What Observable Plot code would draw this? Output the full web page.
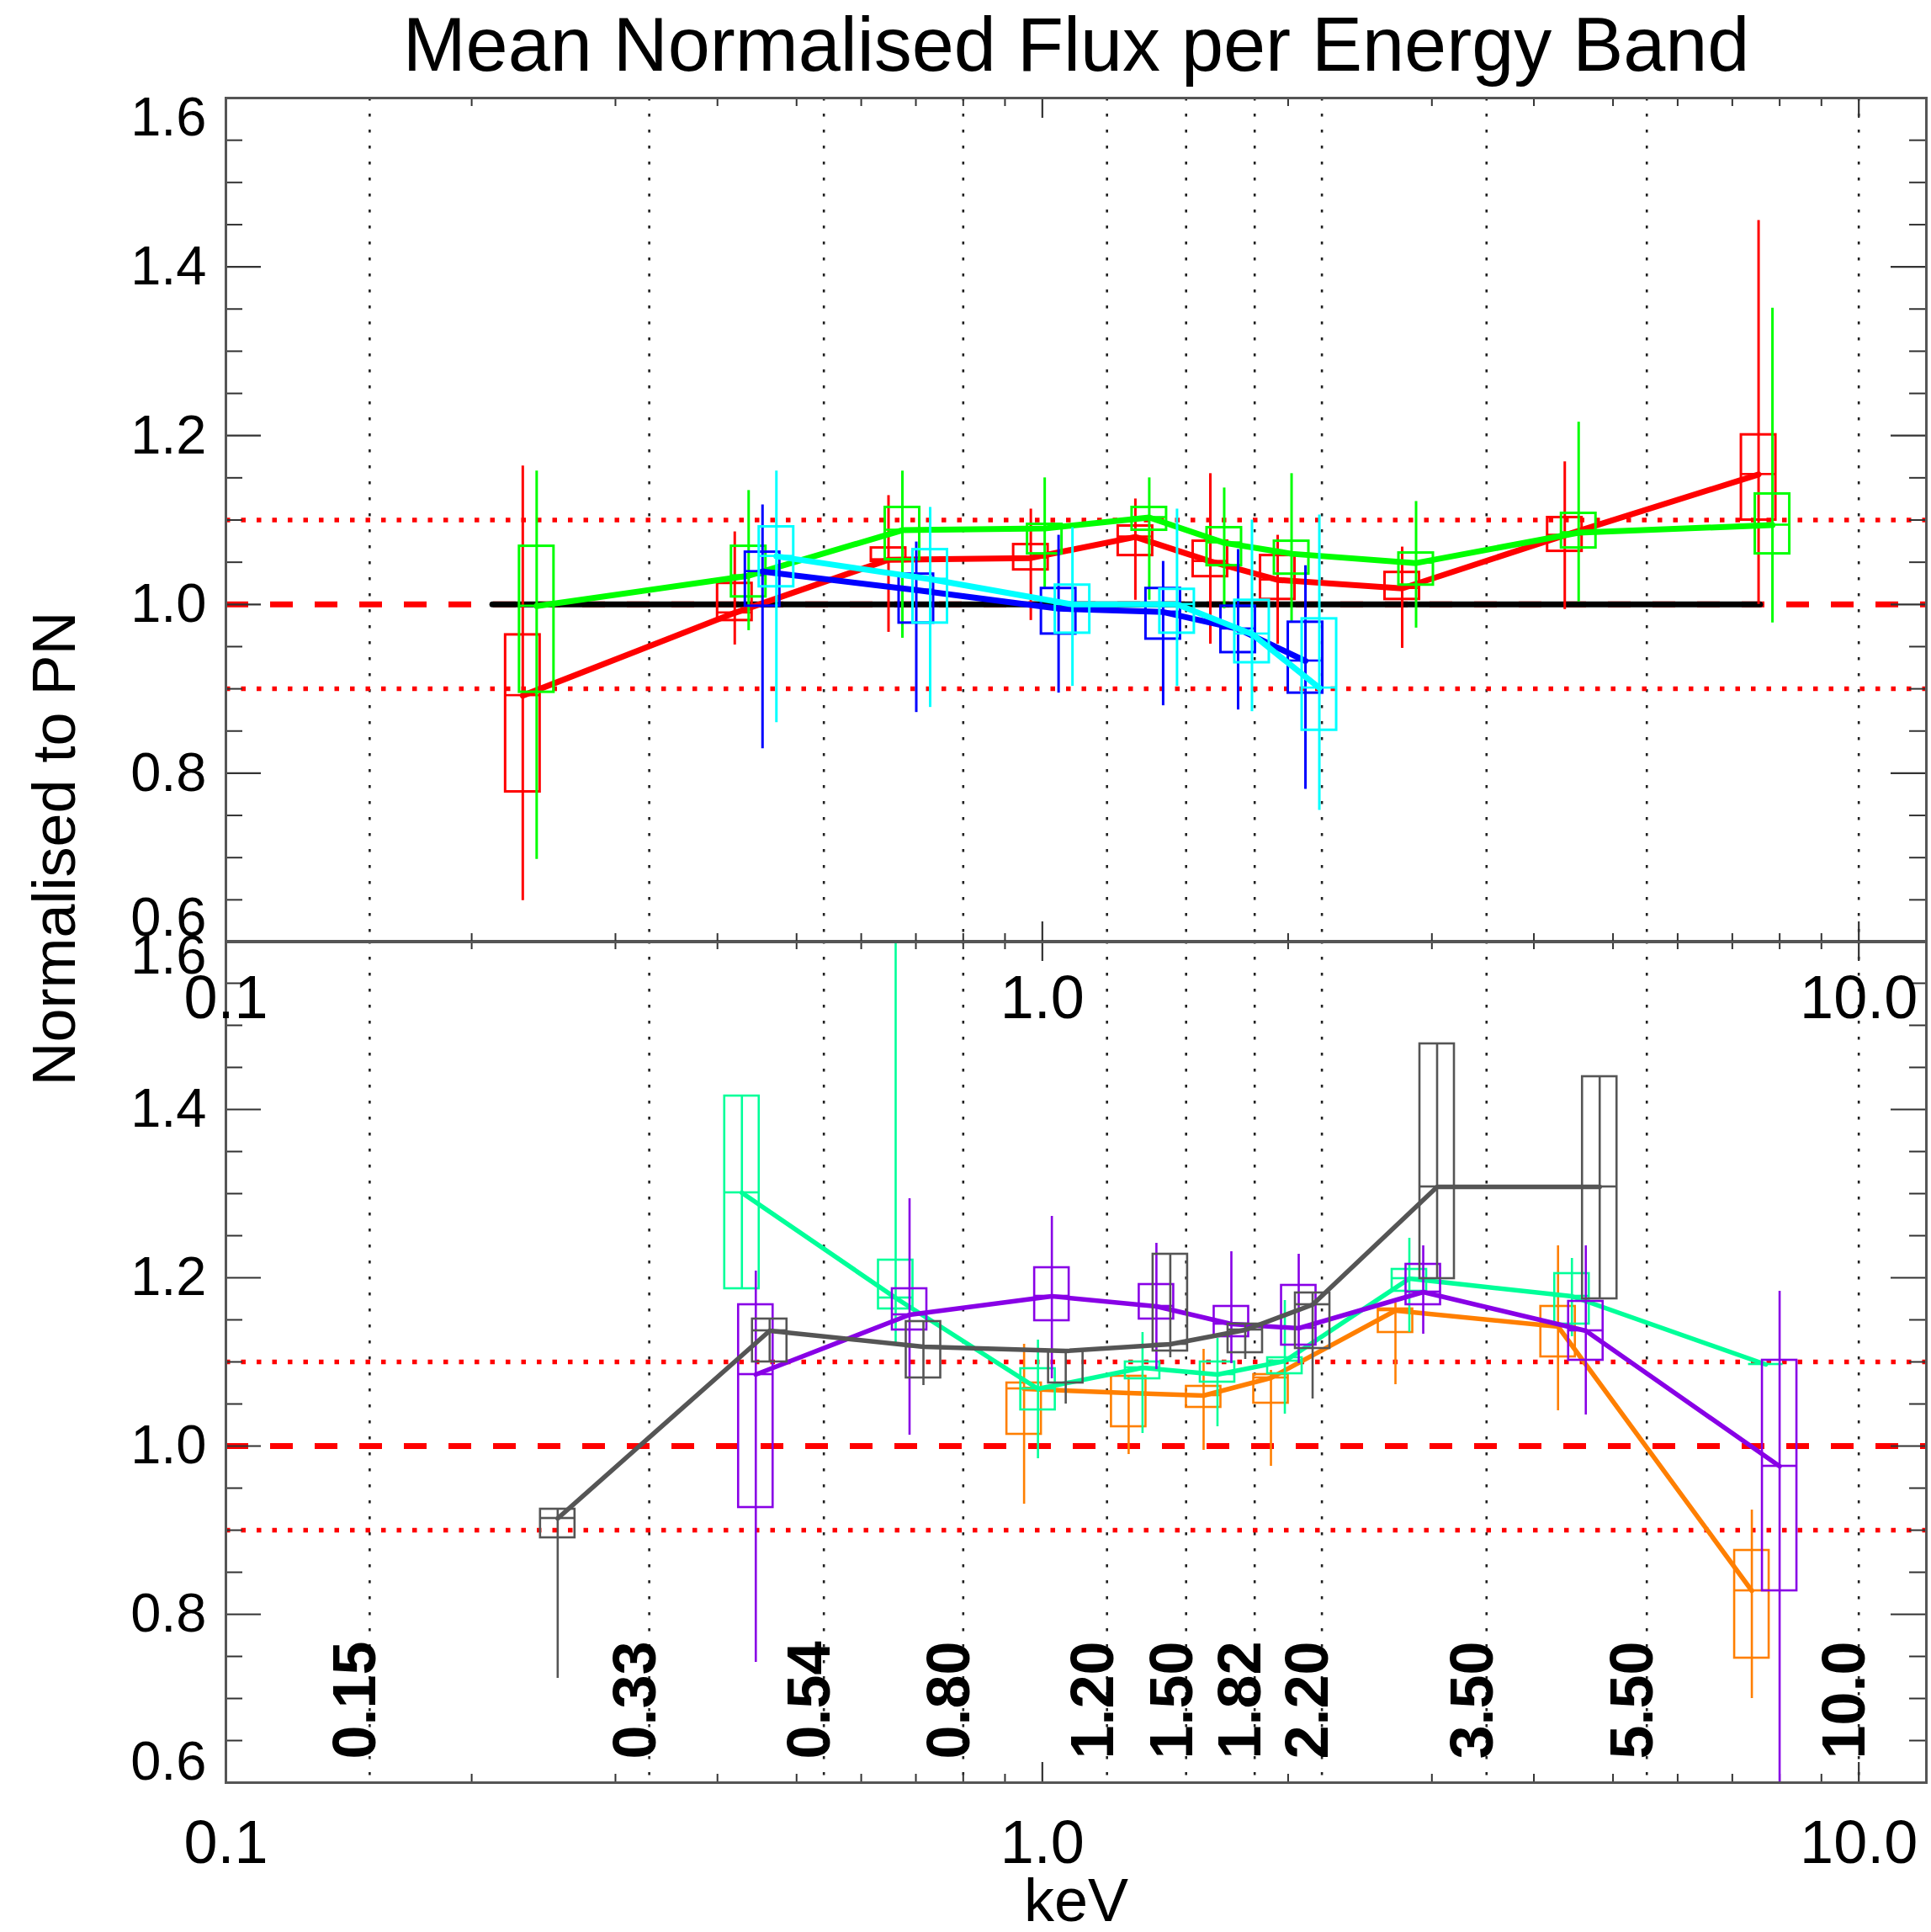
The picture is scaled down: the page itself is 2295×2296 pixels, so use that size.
<!DOCTYPE html>
<html><head><meta charset="utf-8">
<script src="https://cdn.jsdelivr.net/npm/d3@7"></script>
<script src="https://cdn.jsdelivr.net/npm/@observablehq/plot@0.6"></script>
<style>
html,body{margin:0;padding:0;background:#fff;}
#chart{position:relative;width:2295px;height:2296px;background:#fff;}
#chart svg{position:absolute;left:0;top:0;overflow:visible;}
</style></head><body><div id="chart"></div>
<script>
// ---------- data ----------
const chartTitle = "Mean Normalised Flux per Energy Band";
const xAxisLabel = "keV";
const yAxisLabel = "Normalised to PN";
const bandEdges = [0.15, 0.33, 0.54, 0.80, 1.20, 1.50, 1.82, 2.20, 3.50, 5.50, 10.0];
const bandEdgeLabels = ["0.15","0.33","0.54","0.80","1.20","1.50","1.82","2.20","3.50","5.50","10.0"];
const bandEnergy = [0.231, 0.420, 0.648, 0.968, 1.300, 1.606, 1.942, 2.759, 4.364, 7.538];
const xTickValues = [0.1, 1, 10];
const xTickLabels = ["0.1", "1.0", "10.0"];
const xMinorTicks = [0.2,0.3,0.4,0.5,0.6,0.7,0.8,0.9,2,3,4,5,6,7,8,9];
const yTickValues = [0.6, 0.8, 1.0, 1.2, 1.4, 1.6];
const yMinorTicks = [0.65,0.7,0.75,0.85,0.9,0.95,1.05,1.1,1.15,1.25,1.3,1.35,1.45,1.5,1.55];
const pnEnergy = [0.212, 7.57];
const pnValue = [1.0, 1.0];

// top panel
const redMed = [0.892, 0.990, 1.053, 1.055, 1.080, 1.051, 1.029, 1.019, 1.082, 1.154];
const redQ1  = [0.778, 0.981, 1.051, 1.041, 1.058, 1.033, 1.006, 1.006, 1.063, 1.100];
const redQ3  = [0.964, 1.025, 1.067, 1.071, 1.093, 1.075, 1.058, 1.038, 1.103, 1.201];
const redLo  = [0.649, 0.952, 0.967, 0.981, 1.005, 0.953, 0.953, 0.948, 0.994, 1.000];
const redHi  = [1.164, 1.086, 1.129, 1.113, 1.125, 1.155, 1.082, 1.068, 1.169, 1.455];

const greenMed = [0.998, 1.034, 1.088, 1.090, 1.103, 1.073, 1.060, 1.049, 1.085, 1.094];
const greenQ1  = [0.896, 1.009, 1.053, 1.060, 1.088, 1.046, 1.036, 1.023, 1.067, 1.060];
const greenQ3  = [1.069, 1.069, 1.115, 1.095, 1.115, 1.091, 1.075, 1.061, 1.108, 1.131];
const greenLo  = [0.698, 0.969, 0.960, 1.020, 1.005, 0.995, 0.980, 0.972, 1.003, 0.978];
const greenHi  = [1.158, 1.135, 1.158, 1.150, 1.150, 1.138, 1.155, 1.122, 1.216, 1.351];

const blueMed = [null, 1.039, 1.017, 0.995, 0.991, 0.971, 0.933, null, null, null];
const blueQ1  = [null, 0.998, 0.978, 0.965, 0.959, 0.943, 0.895, null, null, null];
const blueQ3  = [null, 1.062, 1.036, 1.019, 1.019, 0.998, 0.979, null, null, null];
const blueLo  = [null, 0.829, 0.872, 0.895, 0.880, 0.875, 0.781, null, null, null];
const blueHi  = [null, 1.118, 1.074, 1.082, 1.051, 1.065, 1.046, null, null, null];

const cyanMed = [null, 1.057, 1.030, 1.000, 1.000, 0.965, 0.901, null, null, null];
const cyanQ1  = [null, 1.021, 0.978, 0.966, 0.966, 0.931, 0.851, null, null, null];
const cyanQ3  = [null, 1.092, 1.065, 1.023, 1.018, 1.005, 0.983, null, null, null];
const cyanLo  = [null, 0.860, 0.878, 0.903, 0.903, 0.873, 0.756, null, null, null];
const cyanHi  = [null, 1.158, 1.115, 1.091, 1.113, 1.100, 1.106, null, null, null];

// bottom panel
const orangeMed = [null, null, null, 1.068, 1.063, 1.060, 1.081, 1.161, 1.142, 0.828];
const orangeQ1  = [null, null, null, 1.014, 1.023, 1.046, 1.051, 1.135, 1.106, 0.748];
const orangeQ3  = [null, null, null, 1.075, 1.083, 1.071, 1.085, 1.163, 1.166, 0.876];
const orangeLo  = [null, null, null, 0.931, 0.990, 0.995, 0.976, 1.073, 1.042, 0.700];
const orangeHi  = [null, null, null, 1.121, 1.083, 1.115, 1.090, 1.170, 1.238, 0.924];

const springMed = [null, 1.301, 1.176, 1.068, 1.093, 1.085, 1.101, 1.199, 1.178, 1.097];
const springQ1  = [null, 1.187, 1.163, 1.043, 1.080, 1.076, 1.086, 1.184, 1.145, 1.097];
const springQ3  = [null, 1.416, 1.221, 1.092, 1.100, 1.100, 1.105, 1.210, 1.205, 1.097];
const springLo  = [null, 1.187, 1.120, 0.985, 1.015, 1.023, 1.038, 1.135, 1.130, 1.097];
const springHi  = [null, 1.416, 1.650, 1.126, 1.135, 1.128, 1.173, 1.247, 1.223, 1.097];

const purpleMed = [null, 1.085, 1.156, 1.178, 1.166, 1.145, 1.140, 1.183, 1.137, 0.976];
const purpleQ1  = [null, 0.927, 1.138, 1.149, 1.151, 1.130, 1.120, 1.168, 1.102, 0.828];
const purpleQ3  = [null, 1.168, 1.187, 1.212, 1.192, 1.166, 1.191, 1.216, 1.172, 1.102];
const purpleLo  = [null, 0.743, 1.013, 1.080, 1.091, 1.098, 1.098, 1.133, 1.037, 0.550];
const purpleHi  = [null, 1.208, 1.294, 1.273, 1.241, 1.231, 1.228, 1.238, 1.238, 1.184];

const grayMed = [0.914, 1.137, 1.118, 1.113, 1.121, 1.138, 1.168, 1.308, 1.308, null];
const grayQ1  = [0.891, 1.100, 1.081, 1.075, 1.113, 1.111, 1.116, 1.199, 1.175, null];
const grayQ3  = [0.925, 1.151, 1.148, 1.113, 1.228, 1.145, 1.182, 1.478, 1.439, null];
const grayLo  = [0.724, 1.100, 1.072, 1.050, 1.105, 1.103, 1.056, 1.199, 1.175, null];
const grayHi  = [0.925, 1.151, 1.148, 1.113, 1.228, 1.145, 1.182, 1.478, 1.439, null];

// ---------- layout / style ----------
const W = 2295, H = 2296;
const mLeft = 268, mRight = 6;
const topFrame = [116, 1119];
const botFrame = [1118, 2118];
const font = "'Liberation Sans', Arial, Helvetica, sans-serif";
const boxHalf = 20.5;

function rowsOf(med, q1, q3, lo, hi) {
  return bandEnergy.map((e, i) => ({energy: e, med: med[i], q1: q1[i], q3: q3[i], lo: lo[i], hi: hi[i]}))
    .filter(d => d.med != null);
}

function seriesMarks(rows, color, dx, lineW, thinW) {
  return [
    Plot.ruleX(rows, {x: "energy", y1: "lo", y2: "hi", stroke: color, strokeWidth: thinW, dx, clip: true}),
    Plot.rect(rows, {x1: "energy", x2: "energy", y1: "q1", y2: "q3", insetLeft: -boxHalf, insetRight: -boxHalf,
      fill: "none", stroke: color, strokeWidth: thinW, dx, clip: true}),
    Plot.rect(rows, {x1: "energy", x2: "energy", y1: "med", y2: "med", insetLeft: -boxHalf, insetRight: -boxHalf,
      insetTop: -1.3, insetBottom: -1.3, fill: color, dx}),
    Plot.line(rows, {x: "energy", y: "med", stroke: color, strokeWidth: lineW, dx, strokeLinejoin: "round"})
  ];
}

function frameMarks(fh, fw, opts) {
  const tc = "#333";
  return [
    Plot.ruleX(bandEdges, {x: d => d, stroke: "#222", strokeWidth: 2.6, strokeDasharray: "3.5,15.5"}),
    Plot.ruleY([0.9, 1.1], {y: d => d, stroke: "#ff0000", strokeWidth: 5.5, strokeDasharray: "5.5,13"}),
    Plot.ruleY([1.0], {y: d => d, stroke: "#ff0000", strokeWidth: 7, strokeDasharray: "27,26"}),
    Plot.tickX(xMinorTicks, {x: d => d, insetTop: fh - 10, stroke: tc, strokeWidth: 2}),
    Plot.tickX(xMinorTicks, {x: d => d, insetBottom: fh - 10, stroke: tc, strokeWidth: 2}),
    Plot.tickX(xTickValues, {x: d => d, insetTop: fh - 24, stroke: tc, strokeWidth: 2.2}),
    Plot.tickX(xTickValues, {x: d => d, insetBottom: fh - 24, stroke: tc, strokeWidth: 2.2}),
    Plot.tickY(yMinorTicks, {y: d => d, insetRight: fw - 20, stroke: tc, strokeWidth: 2}),
    Plot.tickY(yMinorTicks, {y: d => d, insetLeft: fw - 20, stroke: tc, strokeWidth: 2}),
    Plot.tickY(yTickValues, {y: d => d, insetRight: fw - 42, stroke: tc, strokeWidth: 2.2}),
    Plot.tickY(yTickValues, {y: d => d, insetLeft: fw - 42, stroke: tc, strokeWidth: 2.2}),
    // y labels
    Plot.text(yTickValues.filter(v => v > 0.61 && v < 1.59), {y: d => d, text: d => d.toFixed(1), frameAnchor: "left",
      textAnchor: "end", dx: -23, fontSize: 65}),
    Plot.text([yTickValues[yTickValues.length - 1]], {y: d => d, text: d => d.toFixed(1), frameAnchor: "left",
      textAnchor: "end", dx: -23, dy: opts.topShift, fontSize: 65}),
    Plot.text([yTickValues[0]], {y: d => d, text: d => d.toFixed(1), frameAnchor: "left",
      textAnchor: "end", dx: -23, dy: opts.botShift, fontSize: 65}),
    // x labels
    Plot.text(xTickValues, {x: d => d, text: (d, i) => xTickLabels[i], frameAnchor: "bottom", lineAnchor: "top",
      dy: opts.xLabelDy, fontSize: 72})
  ];
}

function makePlot(frame, marks) {
  return Plot.plot({
    width: W, height: H,
    marginLeft: mLeft, marginRight: mRight,
    marginTop: frame[0], marginBottom: H - frame[1],
    style: {fontFamily: font, background: "transparent", overflow: "visible", color: "black"},
    x: {type: "log", domain: [0.1, 12.1], axis: null},
    y: {domain: [0.6, 1.6], axis: null},
    marks
  });
}

const fw = W - mLeft - mRight;
const fhTop = topFrame[1] - topFrame[0];
const fhBot = botFrame[1] - botFrame[0];

const topPlot = makePlot(topFrame, [
  ...frameMarks(fhTop, fw, {topShift: 24, botShift: -28, xLabelDy: 39}),
  Plot.line(pnEnergy.map((e, i) => ({energy: e, v: pnValue[i]})), {x: "energy", y: "v", stroke: "black", strokeWidth: 7}),
  ...seriesMarks(rowsOf(redMed, redQ1, redQ3, redLo, redHi), "#ff0000", 0, 7, 3),
  ...seriesMarks(rowsOf(greenMed, greenQ1, greenQ3, greenLo, greenHi), "#00ff00", 16.5, 7, 3),
  ...seriesMarks(rowsOf(blueMed, blueQ1, blueQ3, blueLo, blueHi), "#0000ff", 33, 7, 3),
  ...seriesMarks(rowsOf(cyanMed, cyanQ1, cyanQ3, cyanLo, cyanHi), "#00ffff", 49.5, 7, 3),
  Plot.frame({stroke: "#555", strokeWidth: 3}),
  Plot.text([chartTitle], {text: d => d, frameAnchor: "top", lineAnchor: "bottom", dy: -33, fontSize: 90})
]);

const botPlot = makePlot(botFrame, [
  ...frameMarks(fhBot, fw, {topShift: 18, botShift: -24, xLabelDy: 44}),
  Plot.text(bandEdges, {x: d => d, text: (d, i) => bandEdgeLabels[i], frameAnchor: "bottom", rotate: -90,
    textAnchor: "start", lineAnchor: "bottom", dx: 7, dy: -28, fontSize: 72, fontWeight: "bold"}),
  ...seriesMarks(rowsOf(orangeMed, orangeQ1, orangeQ3, orangeLo, orangeHi), "#ff7f00", -8, 5.5, 2.6),
  ...seriesMarks(rowsOf(springMed, springQ1, springQ3, springLo, springHi), "#00ff99", 8.5, 5.5, 2.6),
  ...seriesMarks(rowsOf(purpleMed, purpleQ1, purpleQ3, purpleLo, purpleHi), "#8800e6", 25, 5.5, 2.6),
  ...seriesMarks(rowsOf(grayMed, grayQ1, grayQ3, grayLo, grayHi), "#555555", 41.5, 5.5, 2.6),
  Plot.frame({stroke: "#555", strokeWidth: 3}),
  Plot.text([xAxisLabel], {text: d => d, frameAnchor: "bottom", lineAnchor: "bottom", dy: 164, fontSize: 72}),
  Plot.text([yAxisLabel], {text: d => d, frameAnchor: "top-left", rotate: -90, textAnchor: "middle",
    lineAnchor: "bottom", dx: -180, dy: -110, fontSize: 72})
]);

const chart = document.getElementById("chart");
chart.appendChild(botPlot);
chart.appendChild(topPlot);
</script></body></html>
